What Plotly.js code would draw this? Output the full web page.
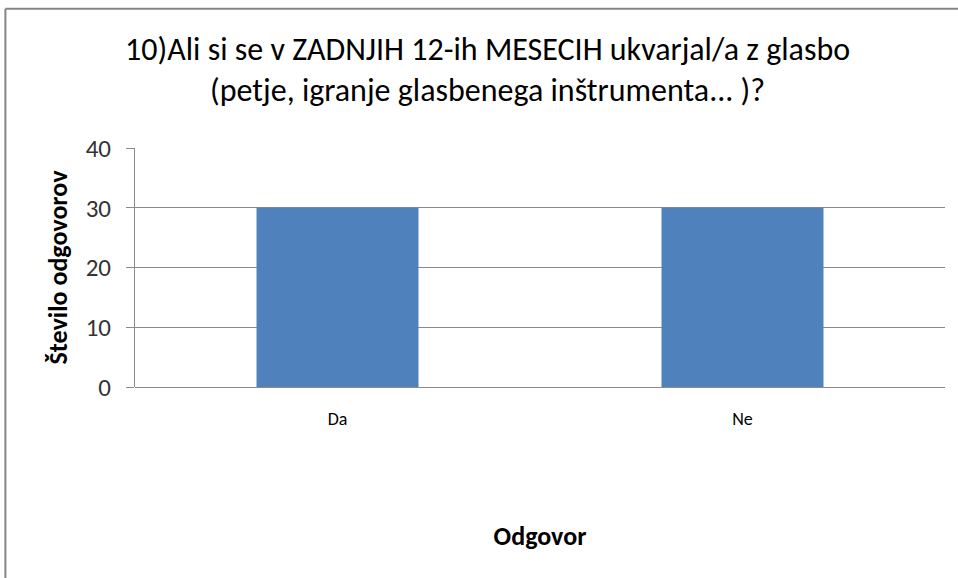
<!DOCTYPE html>
<html>
<head>
<meta charset="utf-8">
<script src="https://cdn.plot.ly/plotly-3.0.1.min.js"></script>
<style>
html,body{margin:0;padding:0;background:#fff;overflow:hidden;}
#chart{width:958px;height:578px;}
</style>
</head>
<body>
<div id="chart"></div>
<script>
const categories = ["Da", "Ne"];
const values = [30, 30];
const yTicks = [0, 10, 20, 30, 40];

const FONT = "Carlito, 'Liberation Sans Narrow', 'Open Sans', sans-serif";

const trace = {
  type: "bar",
  x: categories,
  y: values,
  marker: {color: "#4F81BD", line: {width: 0}},
  hoverinfo: "x+y"
};

const layout = {
  width: 958,
  height: 578,
  margin: {l: 135, r: 13, t: 148, b: 191},
  paper_bgcolor: "#ffffff",
  plot_bgcolor: "#ffffff",
  showlegend: false,
  bargap: 0.6,
  font: {family: FONT, color: "#000"},
  title: {
    text: "10)Ali si se v ZADNJIH 12-ih MESECIH ukvarjal/a z glasbo<br>(petje, igranje glasbenega inštrumenta... )?",
    font: {family: FONT, size: 32, color: "#000"},
    xref: "container", x: 0.509, xanchor: "center",
    yref: "container", y: 0.897, yanchor: "top"
  },
  xaxis: {
    type: "category",
    showgrid: false,
    showline: false,
    ticks: "outside",
    ticklen: 15,
    tickcolor: "rgba(0,0,0,0)",
    tickfont: {family: FONT, size: 18, color: "#000"},
    title: {text: "<b>Odgovor</b>", font: {family: FONT, size: 26, color: "#000"}, standoff: 98}
  },
  yaxis: {
    range: [0, 40],
    tickvals: yTicks,
    ticktext: yTicks.map(String),
    showgrid: true,
    gridcolor: "#8a8a8a",
    gridwidth: 1,
    zeroline: true,
    zerolinecolor: "#8a8a8a",
    zerolinewidth: 1,
    showline: true,
    linecolor: "#8a8a8a",
    linewidth: 1,
    ticks: "outside",
    ticklen: 8,
    tickcolor: "#8a8a8a",
    ticklabelstandoff: 10,
    tickfont: {family: FONT, size: 25, color: "#333"},
    title: {text: "<b>Število odgovorov</b>", font: {family: FONT, size: 26, color: "#000"}, standoff: 10}
  },
  shapes: [
    {type: "line", xref: "paper", yref: "paper", x0: -0.16, x1: 1.1, y0: 1.583, y1: 1.583, line: {color: "#868686", width: 2}},
    {type: "line", xref: "paper", yref: "paper", x0: -0.16, x1: -0.16, y0: 1.583, y1: -1.0, line: {color: "#868686", width: 2}}
  ]
};

Plotly.newPlot("chart", [trace], layout, {displayModeBar: false, staticPlot: true});
</script>
</body>
</html>
